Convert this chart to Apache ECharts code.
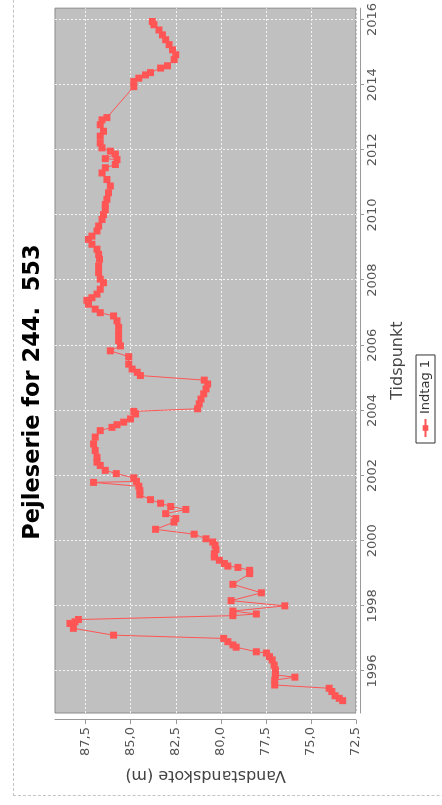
<!DOCTYPE html>
<html><head><meta charset="utf-8">
<script src="https://cdn.jsdelivr.net/npm/echarts@6/dist/echarts.min.js"></script>
<style>
html,body{margin:0;padding:0;width:442px;height:805px;overflow:hidden;background:#fff}
#wrap{position:absolute;left:0;top:0;width:805px;height:442px;transform-origin:0 0;transform:translateY(805px) rotate(-90deg);}
#frame{position:absolute;left:9px;top:13px;width:900px;height:600px;border-left:1px dashed #c4c4c4;border-top:1px dashed #c4c4c4;}
#chart{position:absolute;left:0;top:0;width:805px;height:442px;}
</style></head>
<body><div id="wrap"><div id="frame"></div><div id="chart"></div></div>
<script>
const titleText = 'Pejleserie for 244.  553';
const seriesName = 'Indtag 1';
const timeName = 'Tidspunkt';
const levelName = 'Vandstandskote (m)';
const yearTicks = [1996,1998,2000,2002,2004,2006,2008,2010,2012,2014,2016];
const levelTicks = [72.5,75,77.5,80,82.5,85,87.5];
const times = [1995.09,1995.16,1995.24,1995.37,1995.47,1995.57,1995.72,1995.81,1995.88,1996.03,1996.18,1996.34,1996.44,1996.55,1996.59,1996.73,1996.80,1996.90,1997.00,1997.10,1997.31,1997.46,1997.51,1997.58,1997.70,1997.75,1997.84,1998.00,1998.16,1998.40,1998.66,1998.99,1999.09,1999.18,1999.22,1999.30,1999.40,1999.50,1999.60,1999.73,1999.86,1999.96,2000.06,2000.20,2000.35,2000.57,2000.68,2000.83,2000.96,2001.05,2001.15,2001.26,2001.41,2001.54,2001.67,2001.79,2001.82,2001.93,2002.06,2002.16,2002.31,2002.41,2002.56,2002.77,2002.97,2003.18,2003.38,2003.48,2003.56,2003.64,2003.74,2003.89,2003.97,2004.05,2004.20,2004.35,2004.51,2004.66,2004.81,2004.93,2005.07,2005.17,2005.27,2005.42,2005.65,2005.83,2005.98,2006.14,2006.34,2006.55,2006.75,2006.90,2007.00,2007.11,2007.26,2007.38,2007.46,2007.57,2007.72,2007.92,2008.03,2008.23,2008.43,2008.64,2008.79,2008.95,2009.10,2009.25,2009.35,2009.51,2009.66,2009.86,2010.01,2010.16,2010.32,2010.48,2010.68,2010.89,2011.09,2011.29,2011.45,2011.55,2011.70,2011.73,2011.87,2011.96,2012.06,2012.21,2012.42,2012.57,2012.77,2012.92,2012.99,2013.94,2014.10,2014.20,2014.30,2014.37,2014.51,2014.58,2014.77,2014.92,2015.07,2015.23,2015.38,2015.53,2015.68,2015.84,2015.94];
const levels = [73.24,73.43,73.66,73.84,73.99,77.01,77.01,75.89,76.97,76.97,77.04,77.15,77.30,77.47,78.03,79.15,79.33,79.61,79.84,85.95,88.18,88.37,88.09,87.90,79.33,78.03,79.33,76.45,79.43,77.75,79.33,78.40,78.40,79.05,79.61,79.80,80.08,80.36,80.36,80.27,80.32,80.45,80.82,81.48,83.62,82.60,82.50,83.06,81.94,82.78,83.34,83.90,84.49,84.49,84.55,87.06,84.68,84.83,85.80,86.41,86.69,86.87,86.87,86.97,87.06,86.97,86.69,86.04,85.76,85.39,85.01,84.73,84.83,81.29,81.20,81.10,80.95,80.82,80.73,80.92,84.46,84.64,84.92,85.11,85.11,86.13,85.57,85.67,85.67,85.67,85.76,85.95,86.69,86.97,87.34,87.43,87.15,86.87,86.69,86.51,86.69,86.78,86.78,86.73,86.78,86.87,87.15,87.34,87.15,86.87,86.78,86.59,86.51,86.41,86.41,86.32,86.23,86.13,86.32,86.59,86.41,85.85,85.76,86.41,85.85,86.13,86.59,86.69,86.69,86.51,86.69,86.59,86.32,84.83,84.83,84.55,84.18,83.90,83.34,82.96,82.59,82.50,82.68,82.87,83.06,83.24,83.43,83.71,83.80];

const font = 'DejaVu Sans';
const chart = echarts.init(document.getElementById('chart'), null, {renderer: 'canvas'});
const data = times.map((t, i) => [t, levels[i]]);
chart.setOption({
  animation: false,
  textStyle: {fontFamily: font},
  title: {
    text: titleText, left: 408, top: 17, textAlign: 'center',
    textStyle: {fontFamily: font, fontSize: 22.5, fontWeight: 'bold', color: '#000'}
  },
  legend: {
    data: [seriesName], left: 362, top: 416,
    padding: [3, 5], borderColor: '#333', borderWidth: 1, borderRadius: 0,
    itemWidth: 18, itemHeight: 7,
    textStyle: {fontFamily: font, fontSize: 13, color: '#333'}
  },
  grid: {
    left: 92, right: 8, top: 55, bottom: 86, containLabel: false,
    show: true, backgroundColor: '#c0c0c0', borderColor: '#8a8a8a', borderWidth: 1
  },
  xAxis: {
    type: 'value', min: 1994.71, max: 2016.35, offset: 4,
    name: timeName, nameLocation: 'middle', nameGap: 30,
    nameTextStyle: {fontFamily: font, fontSize: 16, color: '#444'},
    axisLine: {show: true, lineStyle: {color: '#999', width: 1}},
    axisTick: {show: true, length: 4, lineStyle: {color: '#999'}, customValues: yearTicks},
    axisLabel: {customValues: yearTicks, margin: 6, fontFamily: font, fontSize: 13, color: '#555', formatter: v => String(v)},
    splitLine: {show: true, lineStyle: {color: '#f4f4f4', type: [2, 2], width: 1}}
  },
  yAxis: {
    type: 'value', min: 72.5, max: 89.2, offset: 7,
    name: levelName, nameLocation: 'middle', nameGap: 45,
    nameTextStyle: {fontFamily: font, fontSize: 16, color: '#444'},
    axisLine: {show: true, lineStyle: {color: '#999', width: 1}},
    axisTick: {show: true, length: 4, lineStyle: {color: '#999'}, customValues: levelTicks},
    axisLabel: {customValues: levelTicks, margin: 7, fontFamily: font, fontSize: 13, color: '#555',
      formatter: v => v.toFixed(1).replace('.', ',')},
    splitLine: {show: true, lineStyle: {color: '#f4f4f4', type: [2, 2], width: 1}}
  },
  series: [{
    name: seriesName, type: 'line', data: data,
    symbol: 'rect', symbolSize: 7, showSymbol: true,
    itemStyle: {color: '#ff5555'},
    lineStyle: {color: '#ff5555', width: 1}
  }]
});
</script>
</body></html>
